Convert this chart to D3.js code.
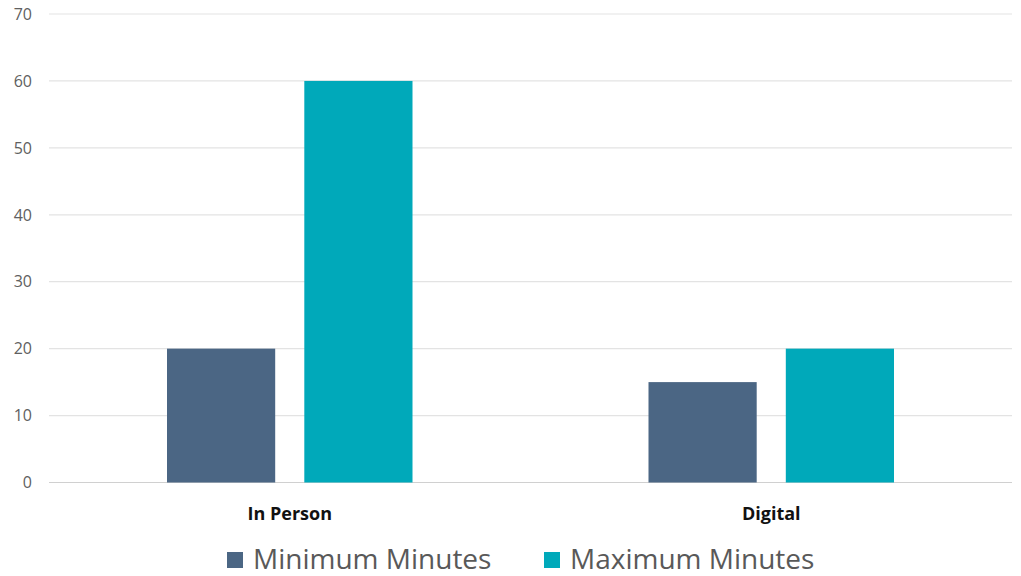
<!DOCTYPE html>
<html>
<head>
<meta charset="utf-8">
<script src="https://cdn.jsdelivr.net/npm/d3@7"></script>
<style>
  html, body { margin: 0; padding: 0; background: #ffffff; }
  svg { display: block; font-family: "Open Sans", Lato, sans-serif; }
</style>
</head>
<body>
<svg id="chart" width="1021" height="576"></svg>
<script>
// Session length by channel, in minutes
const categories = ["In Person", "Digital"];
const seriesNames = ["Minimum Minutes", "Maximum Minutes"];
const minimumMinutes = [20, 15];
const maximumMinutes = [60, 20];
const yTicks = [0, 10, 20, 30, 40, 50, 60, 70];
const seriesColors = ["#4b6684", "#00a9ba"];

const seriesValues = [minimumMinutes, maximumMinutes];
const rows = categories.map((c, i) => ({
  category: c,
  values: seriesNames.map((s, j) => ({ series: s, value: seriesValues[j][i], idx: j }))
}));

const svg = d3.select("#chart");
const plot = { left: 49, right: 1012, top: 14, bottom: 482.5 };

const x0 = d3.scaleBand()
  .domain(categories)
  .range([plot.left, plot.right])
  .paddingInner(0)
  .paddingOuter(0);

const groupPad = 118;
const x1 = d3.scaleBand()
  .domain(seriesNames)
  .range([groupPad, x0.bandwidth() - groupPad])
  .paddingInner(0.212)
  .paddingOuter(0);

const y = d3.scaleLinear()
  .domain([0, 70])
  .range([plot.bottom, plot.top]);

// horizontal gridlines
svg.append("g")
  .selectAll("line")
  .data(yTicks)
  .join("line")
  .attr("x1", plot.left)
  .attr("x2", plot.right)
  .attr("y1", d => y(d))
  .attr("y2", d => y(d))
  .attr("stroke", d => d === 0 ? "#d0d0d0" : "#e3e3e3")
  .attr("stroke-width", 1.2);

// y tick labels
svg.append("g")
  .selectAll("text")
  .data(yTicks)
  .join("text")
  .attr("x", 32)
  .attr("y", d => y(d))
  .attr("dy", "0.36em")
  .attr("text-anchor", "end")
  .attr("font-size", 16)
  .attr("fill", "#606060")
  .text(d => d);

// bars
const groups = svg.append("g")
  .selectAll("g")
  .data(rows)
  .join("g")
  .attr("transform", d => `translate(${x0(d.category)},0)`);

groups.selectAll("rect")
  .data(d => d.values)
  .join("rect")
  .attr("x", d => x1(d.series))
  .attr("width", x1.bandwidth())
  .attr("y", d => y(d.value))
  .attr("height", d => y(0) - y(d.value))
  .attr("fill", d => seriesColors[d.idx]);

// category labels
svg.append("g")
  .selectAll("text")
  .data(categories)
  .join("text")
  .attr("x", d => x0(d) + x0.bandwidth() / 2)
  .attr("y", 520)
  .attr("text-anchor", "middle")
  .attr("font-size", 18)
  .attr("font-weight", "bold")
  .attr("fill", "#111111")
  .text(d => d);

// legend
const legendItems = [
  { name: seriesNames[0], color: seriesColors[0], x: 227 },
  { name: seriesNames[1], color: seriesColors[1], x: 544 }
];
const legend = svg.append("g")
  .selectAll("g")
  .data(legendItems)
  .join("g")
  .attr("transform", d => `translate(${d.x},552)`);

legend.append("rect")
  .attr("width", 16)
  .attr("height", 16)
  .attr("fill", d => d.color);

legend.append("text")
  .attr("x", 26)
  .attr("y", 17)
  .attr("font-size", 28)
  .attr("fill", "#595959")
  .text(d => d.name);
</script>
</body>
</html>
